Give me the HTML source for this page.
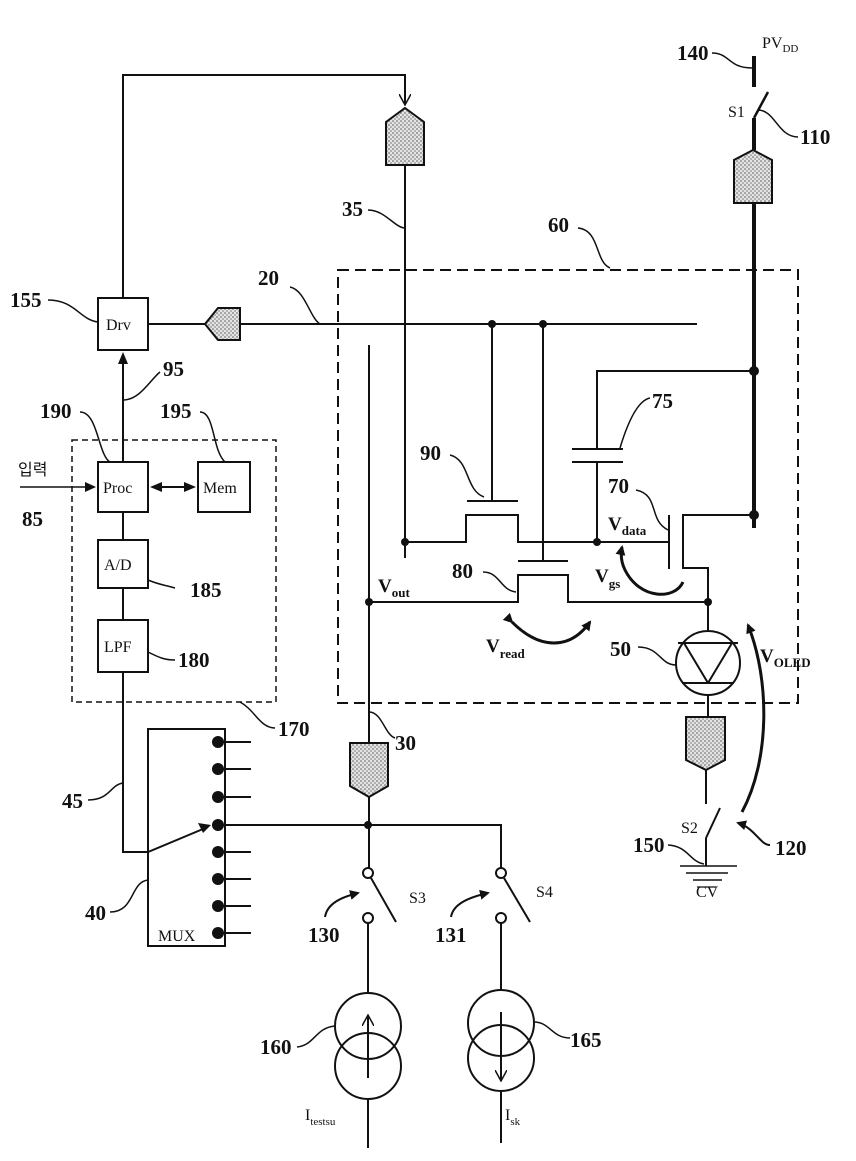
<!DOCTYPE html>
<html><head><meta charset="utf-8"><style>
html,body{margin:0;padding:0;background:#fff}
svg{display:block}
text{font-family:"Liberation Serif","Noto Serif CJK SC",serif;fill:#111}
.b{font-weight:bold;font-size:21px}
.s{font-size:16px}
</style></head><body>
<svg width="856" height="1161" viewBox="0 0 856 1161" xmlns="http://www.w3.org/2000/svg">
<defs>
<pattern id="dots" width="4" height="4" patternUnits="userSpaceOnUse"><rect width="4" height="4" fill="#e4e4e4"/><circle cx="1" cy="1" r="0.8" fill="#555"/><circle cx="3" cy="3" r="0.8" fill="#777"/></pattern>
<marker id="ah" markerWidth="10" markerHeight="10" refX="8" refY="5" orient="auto" markerUnits="userSpaceOnUse"><path d="M0,0 L10,5 L0,10 Z" fill="#111"/></marker>
<marker id="ao" markerWidth="12" markerHeight="12" refX="10" refY="6" orient="auto" markerUnits="userSpaceOnUse"><path d="M0,0 L11,6 L0,12" fill="none" stroke="#111" stroke-width="1.5"/></marker>
</defs>
<g stroke="#111" stroke-width="2" fill="none">
<rect x="338" y="270" width="460" height="433" stroke-dasharray="11,6"/>
<rect x="72" y="440" width="204" height="262" stroke-dasharray="6,4" stroke-width="1.5"/>
<path d="M123,298 V75 H405 V104" marker-end="url(#ao)"/>
<polygon points="405,108 424,122 424,165 386,165 386,122" fill="url(#dots)"/>
<path d="M405,165 V558"/>
<path d="M148,324 H205"/>
<polygon points="205,324 218,308 240,308 240,340 218,340" fill="url(#dots)"/>
<path d="M240,324 H697"/>
<rect x="98" y="298" width="50" height="52"/>
<rect x="98" y="462" width="50" height="50"/>
<rect x="198" y="462" width="52" height="50"/>
<rect x="98" y="540" width="50" height="48"/>
<rect x="98" y="620" width="50" height="52"/>
<path d="M123,462 V362"/>
<path d="M123,512 V540 M123,588 V620"/>
<path d="M160,487 H186"/>
<path d="M20,487 H88" stroke-width="1.5"/>
<rect x="148" y="729" width="77" height="217"/>
<path d="M218,742H251 M218,769H251 M218,797H251 M218,852H251 M218,879H251 M218,906H251 M218,933H251"/>
<path d="M123,672 V852 H148 L203,829"/>
<path d="M218,825 H501 V868"/>
<path d="M369,345 V743"/>
<polygon points="350,743 388,743 388,786 369,797 350,786" fill="url(#dots)"/>
<path d="M369,797 V868"/>
<circle cx="368" cy="873" r="5" fill="#fff"/>
<circle cx="368" cy="918" r="5" fill="#fff"/>
<path d="M371,878 L396,922"/>
<path d="M368,923 V993"/>
<circle cx="368" cy="1026" r="33"/><circle cx="368" cy="1066" r="33"/>
<path d="M368,1078 V1016" marker-end="url(#ao)"/>
<path d="M368,1099 V1148"/>
<circle cx="501" cy="873" r="5" fill="#fff"/>
<circle cx="501" cy="918" r="5" fill="#fff"/>
<path d="M504,878 L530,922"/>
<path d="M501,923 V990"/>
<circle cx="501" cy="1023" r="33"/><circle cx="501" cy="1058" r="33"/>
<path d="M501,1012 V1080" marker-end="url(#ao)"/>
<path d="M501,1091 V1143"/>
<path d="M325,917 C327,905 338,898 358,893" marker-end="url(#ah)"/>
<path d="M451,917 C453,905 466,898 488,893" marker-end="url(#ah)"/>
<path d="M492,324 V501 M467,501 H518"/>
<path d="M405,542 H466 V515 H518 V542 H669"/>
<path d="M543,324 V561 M518,561 H568"/>
<path d="M369,602 H518 V575 H568 V602 H708"/>
<path d="M597,542 V462 M597,449 V371 H754"/>
<path d="M572,449 H623 M572,462 H623"/>
<path d="M669,515 V569"/>
<path d="M754,515 H683 V568 H708 V631"/>
<circle cx="708" cy="663" r="32"/>
<path d="M678,643 H738 M708,683 L684,643 M708,683 L732,643 M682,683 H734"/>
<path d="M708,695 V717"/>
<polygon points="686,717 725,717 725,760 706,770 686,760" fill="url(#dots)"/>
<path d="M706,770 V804 M706,838 L720,808 M706,838 V866"/>
<path d="M680,866 H737 M686,873 H728 M693,880 H722" stroke-width="1.5"/>
<path d="M697,887 H716" stroke-width="1.2"/>
<path d="M770,845 C760,845 755,828 738,823" marker-end="url(#ah)"/>
<path d="M754,56 V87" stroke-width="4"/>
<path d="M754,118 L768,92" stroke-width="2.5"/>
<path d="M754,118 V150" stroke-width="4"/>
<polygon points="753,150 772,160 772,203 734,203 734,160" fill="url(#dots)"/>
<path d="M754,203 V528" stroke-width="4"/>
<path d="M683,582 C675,600 640,600 625,570 C620,560 621,552 622,547" stroke-width="3" marker-end="url(#ah)"/>
<path d="M512,622 C540,650 570,650 590,622" stroke-width="3" marker-end="url(#ah)" marker-start="url(#ah)"/>
<path d="M742,812 C770,760 770,680 748,625" stroke-width="3" marker-end="url(#ah)"/>
<path d="M48,300 C75,300 80,320 98,322" stroke-width="1.5"/>
<path d="M80,412 C98,412 98,455 110,462" stroke-width="1.5"/>
<path d="M200,412 C215,412 212,450 225,462" stroke-width="1.5"/>
<path d="M123,400 C140,400 150,380 160,372" stroke-width="1.5"/>
<path d="M148,580 C160,585 165,585 175,588" stroke-width="1.5"/>
<path d="M148,652 C160,658 165,660 175,660" stroke-width="1.5"/>
<path d="M240,702 C255,710 260,728 275,728" stroke-width="1.5"/>
<path d="M369,712 C382,712 385,735 395,738" stroke-width="1.5"/>
<path d="M88,800 C110,800 110,785 123,783" stroke-width="1.5"/>
<path d="M110,912 C135,912 130,882 148,880" stroke-width="1.5"/>
<path d="M368,210 C385,210 395,228 405,228" stroke-width="1.5"/>
<path d="M290,287 C305,290 310,318 320,324" stroke-width="1.5"/>
<path d="M578,228 C600,230 595,262 610,268" stroke-width="1.5"/>
<path d="M450,455 C470,460 465,490 484,497" stroke-width="1.5"/>
<path d="M483,572 C500,572 500,590 516,592" stroke-width="1.5"/>
<path d="M650,398 C640,400 630,415 620,448" stroke-width="1.5"/>
<path d="M636,490 C660,495 648,520 668,530" stroke-width="1.5"/>
<path d="M638,647 C660,647 660,665 676,665" stroke-width="1.5"/>
<path d="M712,53 C730,53 728,68 752,68" stroke-width="1.5"/>
<path d="M758,110 C775,110 778,137 798,137" stroke-width="1.5"/>
<path d="M668,845 C688,846 690,862 704,864" stroke-width="1.5"/>
<path d="M297,1047 C315,1045 315,1028 335,1026" stroke-width="1.5"/>
<path d="M534,1022 C550,1022 552,1038 570,1038" stroke-width="1.5"/>
</g>
<g fill="#111" stroke="none">
<polygon points="123,352 118,364 128,364"/>
<polygon points="150,487 162,482 162,492"/>
<polygon points="196,487 184,482 184,492"/>
<polygon points="96,487 85,482 85,492"/>
<polygon points="211,825 198,823 203,833"/>
<circle cx="492" cy="324" r="4"/><circle cx="543" cy="324" r="4"/>
<circle cx="405" cy="542" r="4"/><circle cx="597" cy="542" r="4"/>
<circle cx="369" cy="602" r="4"/><circle cx="708" cy="602" r="4"/>
<circle cx="754" cy="371" r="5"/><circle cx="754" cy="515" r="5"/>
<circle cx="368" cy="825" r="4"/>
<circle cx="218" cy="742" r="6"/><circle cx="218" cy="769" r="6"/><circle cx="218" cy="797" r="6"/><circle cx="218" cy="825" r="6"/><circle cx="218" cy="852" r="6"/><circle cx="218" cy="879" r="6"/><circle cx="218" cy="906" r="6"/><circle cx="218" cy="933" r="6"/>
</g>
<text class="s" x="106" y="330">Drv</text>
<text class="s" x="103" y="493">Proc</text>
<text class="s" x="203" y="493">Mem</text>
<text class="s" x="104" y="570">A/D</text>
<text class="s" x="104" y="652">LPF</text>
<text class="s" x="158" y="941">MUX</text>
<text x="18" y="475" style="font-family:'Noto Sans CJK KR',sans-serif;font-size:16px">입력</text>
<text class="b" x="10" y="307">155</text>
<text class="b" x="40" y="418">190</text>
<text class="b" x="160" y="418">195</text>
<text class="b" x="163" y="376">95</text>
<text class="b" x="22" y="526">85</text>
<text class="b" x="190" y="597">185</text>
<text class="b" x="178" y="667">180</text>
<text class="b" x="278" y="736">170</text>
<text class="b" x="395" y="750">30</text>
<text class="b" x="62" y="808">45</text>
<text class="b" x="85" y="920">40</text>
<text class="b" x="342" y="216">35</text>
<text class="b" x="258" y="285">20</text>
<text class="b" x="548" y="232">60</text>
<text class="b" x="420" y="460">90</text>
<text class="b" x="452" y="578">80</text>
<text class="b" x="652" y="408">75</text>
<text class="b" x="608" y="493">70</text>
<text class="b" x="610" y="656">50</text>
<text class="b" x="677" y="60">140</text>
<text class="b" x="800" y="144">110</text>
<text class="b" x="633" y="852">150</text>
<text class="b" x="775" y="855">120</text>
<text class="b" x="308" y="942">130</text>
<text class="b" x="435" y="942">131</text>
<text class="b" x="260" y="1054">160</text>
<text class="b" x="570" y="1047">165</text>
<text class="s" x="762" y="48">PV<tspan font-size="11" dy="4">DD</tspan></text>
<text class="s" x="728" y="117">S1</text>
<text class="s" x="681" y="833">S2</text>
<text class="s" x="696" y="897">CV</text>
<text class="s" x="409" y="903">S3</text>
<text class="s" x="536" y="897">S4</text>
<text class="s" x="305" y="1120">I<tspan font-size="11" dy="5">testsu</tspan></text>
<text class="s" x="505" y="1120">I<tspan font-size="11" dy="5">sk</tspan></text>
<text class="b" x="378" y="592" style="font-size:19px">V<tspan font-size="13" dy="5">out</tspan></text>
<text class="b" x="608" y="530" style="font-size:19px">V<tspan font-size="13" dy="5">data</tspan></text>
<text class="b" x="595" y="582" style="font-size:19px">V<tspan font-size="13" dy="6">gs</tspan></text>
<text class="b" x="486" y="652" style="font-size:19px">V<tspan font-size="13" dy="6">read</tspan></text>
<text class="b" x="760" y="662" style="font-size:19px">V<tspan font-size="13" dy="5">OLED</tspan></text>
</svg>
</body></html>
